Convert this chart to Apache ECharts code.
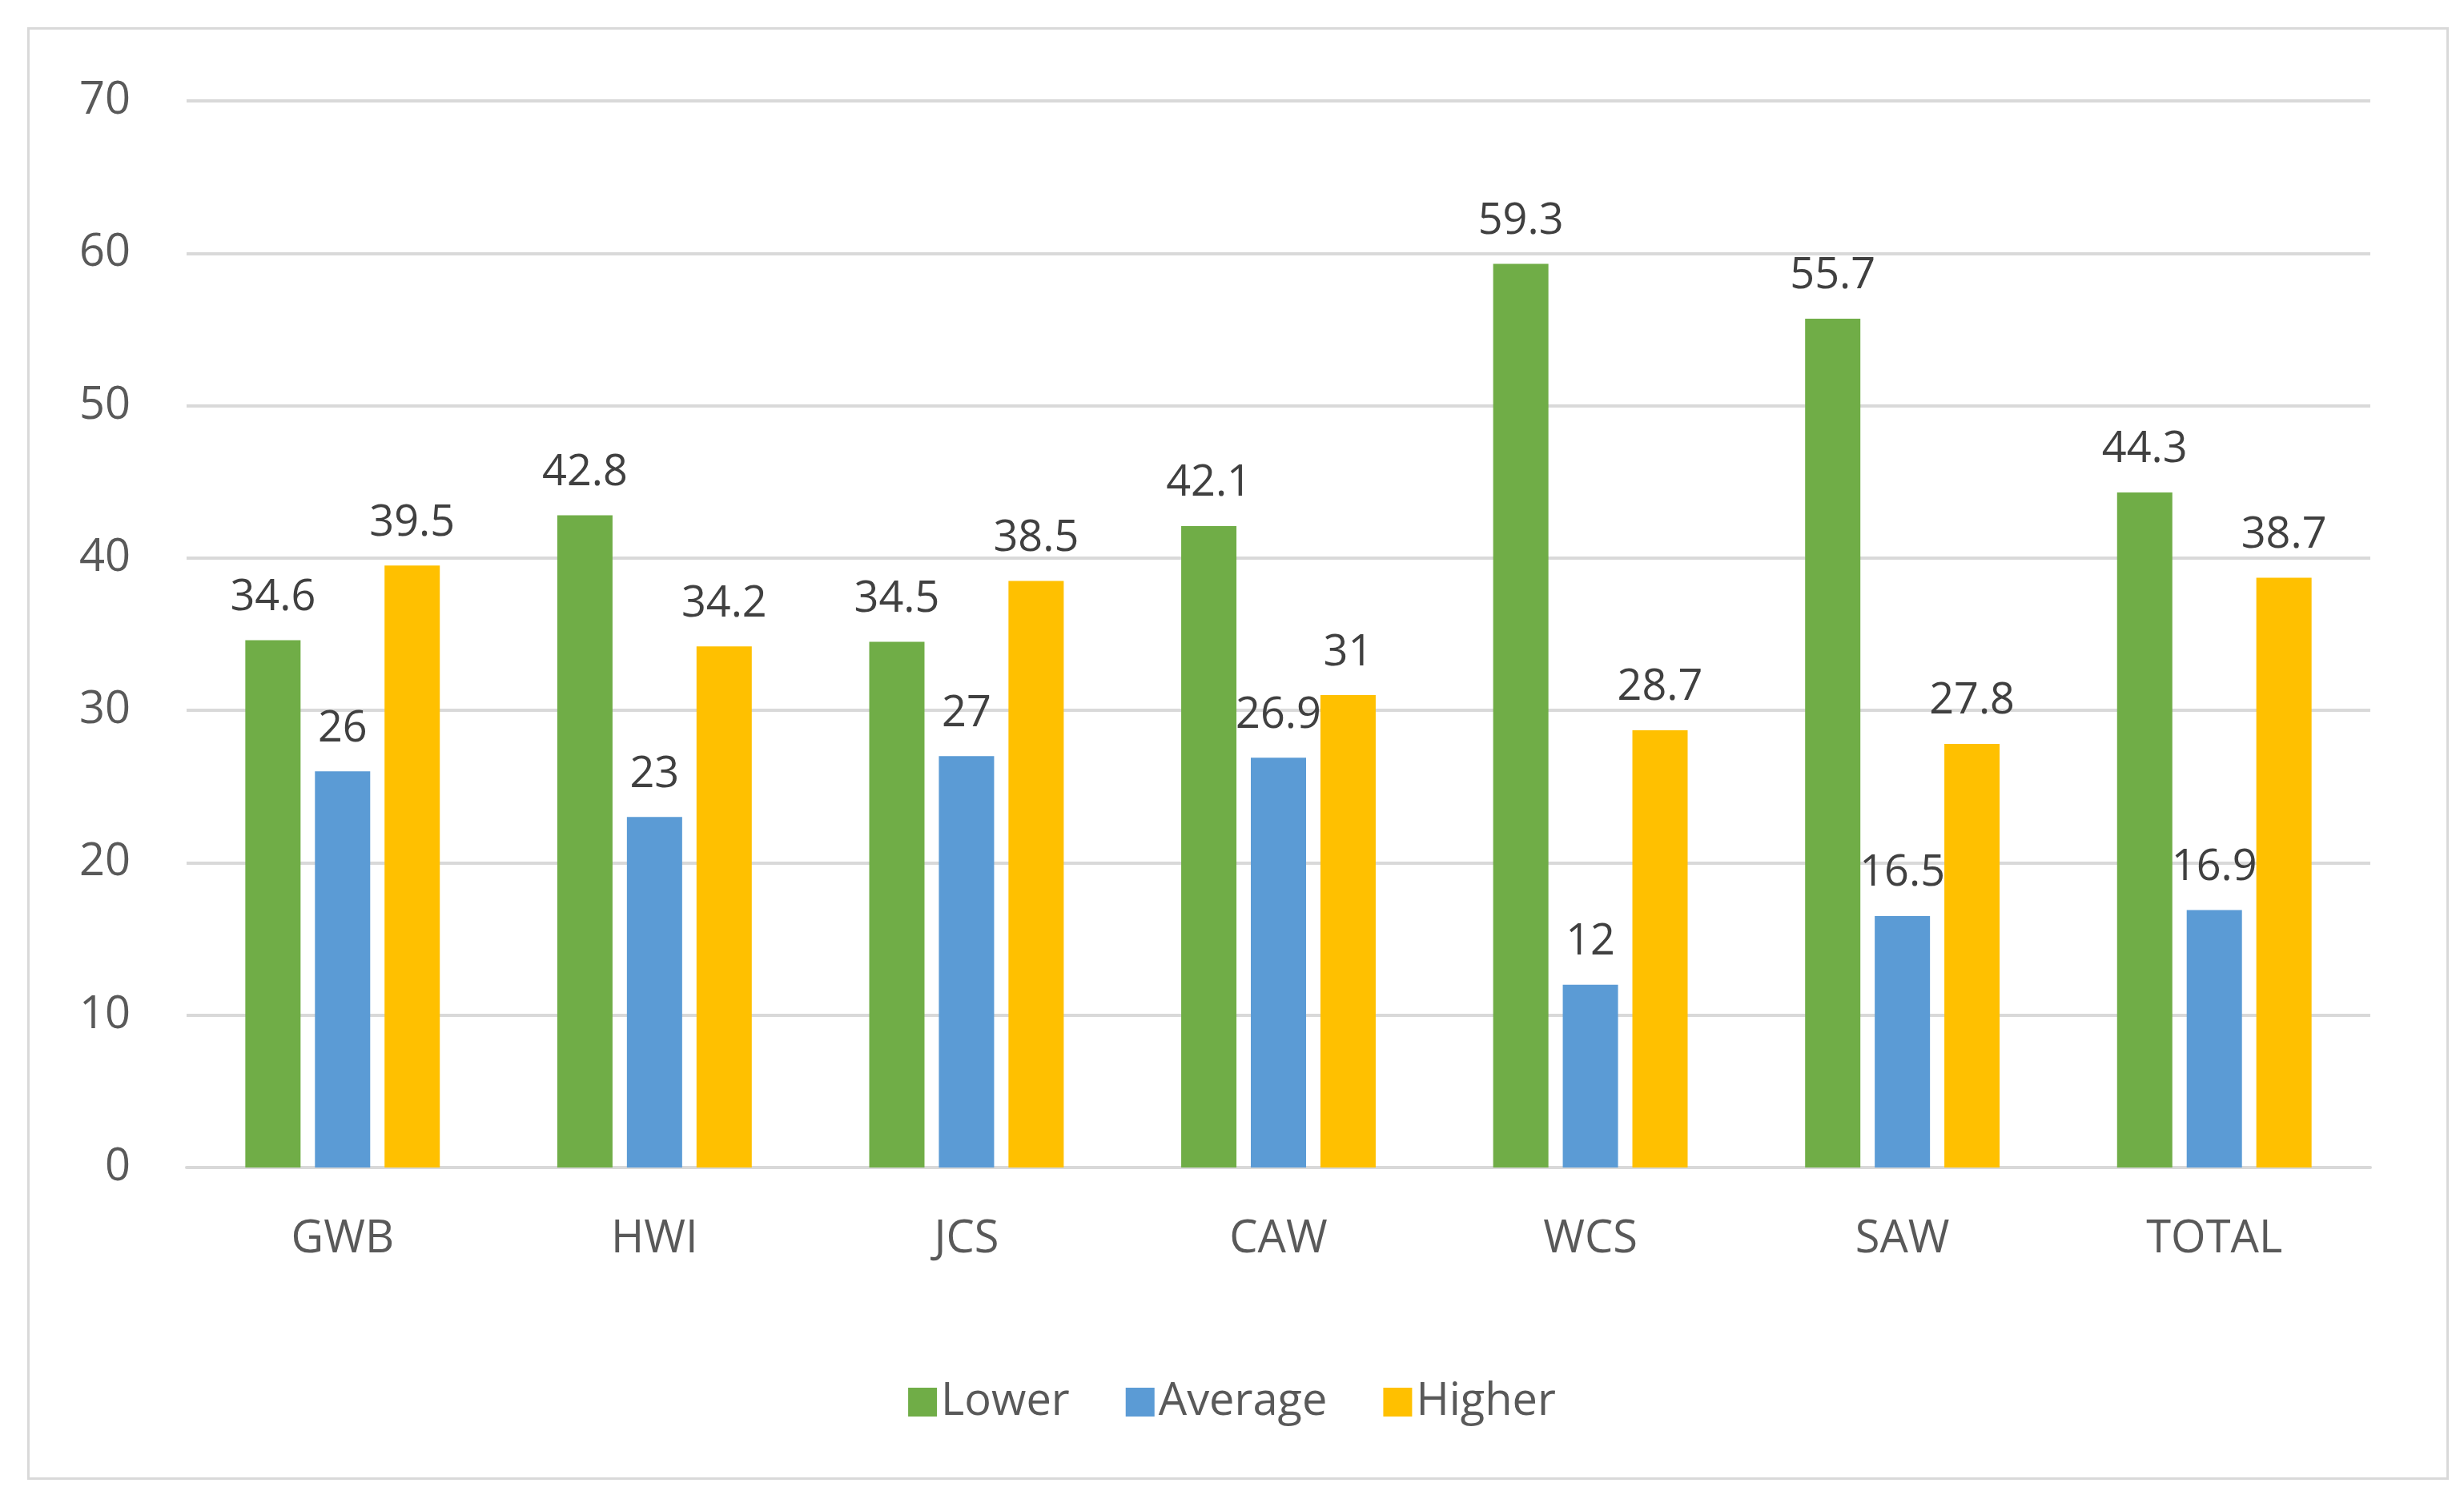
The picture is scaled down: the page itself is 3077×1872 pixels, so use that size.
<!DOCTYPE html>
<html><head><meta charset="utf-8">
<script src="https://cdn.jsdelivr.net/npm/echarts@6/dist/echarts.min.js"></script>
<style>html,body{margin:0;padding:0;background:#fff}#c{width:3077px;height:1872px}
#b{position:absolute;left:34px;top:34px;width:3018px;height:1808px;border:3px solid #d9d9d9}</style>
</head><body><div id="b"></div><div id="c"></div>
<script>
const categories = ['GWB','HWI','JCS','CAW','WCS','SAW','TOTAL'];
const lower = [34.6,42.8,34.5,42.1,59.3,55.7,44.3];
const average = [26,23,27,26.9,12,16.5,16.9];
const higher = [39.5,34.2,38.5,31,28.7,27.8,38.7];
const yTicks = [0,10,20,30,40,50,60,70];
const font = 'Open Sans, Liberation Sans, sans-serif';
const lbl = {show:true,position:'top',distance:26,color:'#404040',fontSize:54,fontFamily:font};
const chart = echarts.init(document.getElementById('c'));
chart.setOption({
  animation:false,
  grid:{left:233,right:117,top:126,bottom:414},
  legend:{bottom:88,left:'center',itemWidth:36,itemHeight:36,itemGap:70,icon:'rect',
    textStyle:{fontSize:56,color:'#595959',fontFamily:font},data:['Lower','Average','Higher']},
  xAxis:{type:'category',data:categories,axisTick:{show:false},
    axisLine:{lineStyle:{color:'#d9d9d9',width:4}},
    axisLabel:{fontSize:56,color:'#595959',fontFamily:font,margin:62}},
  yAxis:{type:'value',min:0,max:70,interval:10,axisLine:{show:false},
    splitLine:{lineStyle:{color:'#d9d9d9',width:4}},
    axisLabel:{fontSize:56,color:'#595959',fontFamily:font,margin:70,
      formatter:v=>yTicks.includes(v)?String(v):''}},
  series:[
    {name:'Lower',type:'bar',data:lower,barWidth:69,barGap:'26%',itemStyle:{color:'#70AD47'},label:lbl},
    {name:'Average',type:'bar',data:average,barWidth:69,itemStyle:{color:'#5B9BD5'},label:lbl},
    {name:'Higher',type:'bar',data:higher,barWidth:69,itemStyle:{color:'#FFC000'},label:lbl}
  ]
});
</script></body></html>
